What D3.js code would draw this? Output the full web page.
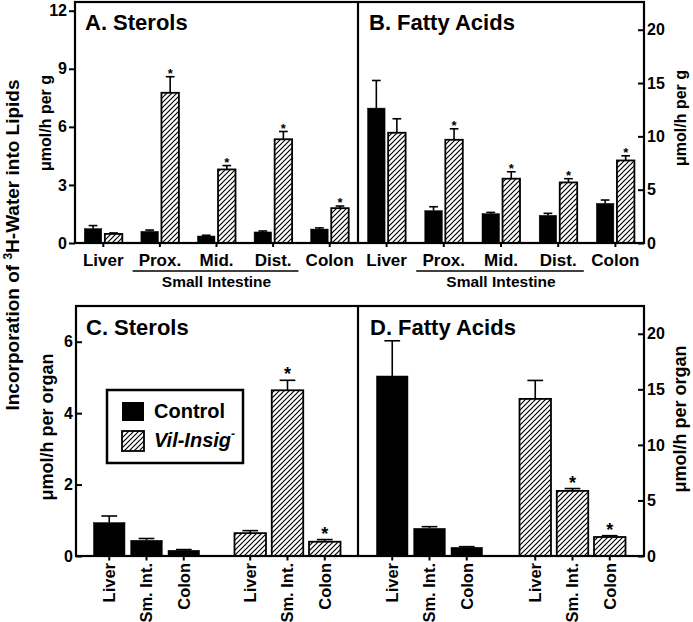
<!DOCTYPE html>
<html><head><meta charset="utf-8">
<script src="https://cdn.jsdelivr.net/npm/d3@7"></script>
<style>
html,body{margin:0;padding:0;background:#fff;}
svg{display:block;}
text{font-family:"Liberation Sans",Arial,Helvetica,sans-serif;font-weight:bold;fill:#000;}
</style></head><body>
<svg id="chart" width="693" height="622"></svg>
<script>
// ---------- data ----------
const catsPerGram = ["Liver","Prox.","Mid.","Dist.","Colon"];
const siLabel = "Small Intestine";
const groups = ["Control","Vil-Insig"];
const catsPerOrgan = ["Liver","Sm. Int.","Colon"];

// A. Sterols, umol/h per g
const sterolGramControl    = [0.74, 0.60, 0.36, 0.57, 0.72];
const sterolGramControlSem = [0.16, 0.07, 0.04, 0.05, 0.06];
const sterolGramVil        = [0.47, 7.76, 3.80, 5.36, 1.80];
const sterolGramVilSem     = [0.05, 0.83, 0.20, 0.40, 0.11];
const sterolGramSig        = [false, true, true, true, true];

// B. Fatty acids, umol/h per g
const faGramControl    = [12.65, 3.03, 2.75, 2.59, 3.71];
const faGramControlSem = [2.59, 0.37, 0.12, 0.19, 0.32];
const faGramVil        = [10.34, 9.68, 6.03, 5.68, 7.74];
const faGramVilSem     = [1.31, 1.03, 0.65, 0.35, 0.44];
const faGramSig        = [false, true, true, true, true];

// C. Sterols, umol/h per organ
const sterolOrganControl    = [0.935, 0.44, 0.16];
const sterolOrganControlSem = [0.185, 0.05, 0.02];
const sterolOrganVil        = [0.64, 4.64, 0.40];
const sterolOrganVilSem     = [0.07, 0.28, 0.06];
const sterolOrganSig        = [false, true, true];

// D. Fatty acids, umol/h per organ
const faOrganControl    = [16.2, 2.49, 0.78];
const faOrganControlSem = [3.17, 0.15, 0.06];
const faOrganVil        = [14.14, 5.86, 1.71];
const faOrganVilSem     = [1.66, 0.21, 0.12];
const faOrganSig        = [false, true, true];

const ticksA = [0,3,6,9,12];
const ticksB = [0,5,10,15,20];
const ticksC = [0,2,4,6];
const ticksD = [0,5,10,15,20];

// ---------- drawing ----------
const W = 693, H = 622;
const svg = d3.select("#chart");
svg.append("rect").attr("width", W).attr("height", H).attr("fill", "#fff");

const defs = svg.append("defs");
const pat = defs.append("pattern").attr("id","hatch")
  .attr("patternUnits","userSpaceOnUse").attr("width",5).attr("height",5);
pat.append("rect").attr("width",5).attr("height",5).attr("fill","#fff");
pat.append("path").attr("d","M-1,1 L1,-1 M0,5 L5,0 M4,6 L6,4")
  .attr("stroke","#000").attr("stroke-width",1.2);

const LW = 2.2;
const xL = 75, xM = 358, xR = 644;
const topBase = 243, topTop = 2, botBase = 556, botTop = 306;
const fmt = d3.format("d");

const yA = d3.scaleLinear().domain([0,12.45]).range([topBase, topTop]);
const yB = d3.scaleLinear().domain([0,22.6]).range([topBase, topTop]);
const yC = d3.scaleLinear().domain([0,7]).range([botBase, botTop]);
const yD = d3.scaleLinear().domain([0,22.5]).range([botBase, botTop]);

function styleAxis(g, fs) {
  g.attr("font-size", fs).attr("font-family", null);
  g.select(".domain").remove();
  g.selectAll(".tick line").attr("stroke","#000").attr("stroke-width",2);
}

function drawBars(g, data, y, starSize, starOff) {
  data.forEach(d => {
    const top = y(d.v), base = y(0);
    g.append("rect").attr("x", d.x).attr("y", top).attr("width", d.w).attr("height", base - top)
      .attr("fill", d.grp === "Control" ? "#000" : "url(#hatch)")
      .attr("stroke", "#000").attr("stroke-width", d.grp === "Control" ? 0.5 : 1.8);
    const cx = d.x + d.w/2, et = y(d.v + d.e);
    g.append("line").attr("x1",cx).attr("x2",cx).attr("y1",top).attr("y2",et)
      .attr("stroke","#000").attr("stroke-width",1.6);
    g.append("line").attr("x1",cx - d.w/4).attr("x2",cx + d.w/4).attr("y1",et).attr("y2",et)
      .attr("stroke","#000").attr("stroke-width",1.6);
    if (d.sig) {
      g.append("text").attr("x",cx).attr("y",et + starOff).attr("text-anchor","middle")
        .attr("font-size",starSize).text("*");
    }
  });
}

function topPanel(range, y, ctrl, ctrlSem, vil, vilSem, sig) {
  const g = svg.append("g");
  const xo = d3.scaleBand().domain(catsPerGram).range(range).padding(0);
  const xi = d3.scaleBand().domain(groups).range([-19,19]).paddingInner(0.15);
  const data = [];
  catsPerGram.forEach((c,i) => {
    const c0 = xo(c) + xo.bandwidth()/2;
    data.push({grp:"Control", x:c0 + xi("Control"), w:xi.bandwidth(), v:ctrl[i], e:ctrlSem[i], sig:false});
    data.push({grp:"Vil-Insig", x:c0 + xi("Vil-Insig"), w:xi.bandwidth(), v:vil[i], e:vilSem[i], sig:sig[i]});
  });
  drawBars(g, data, y, 13, 1);
  g.append("g").attr("transform",`translate(0,${topBase})`)
    .call(d3.axisBottom(xo).tickSize(4).tickPadding(7).tickSizeOuter(0))
    .call(a => styleAxis(a, 17));
  const x1 = xo("Prox.") + 1, x2 = xo("Dist.") + xo.bandwidth() - 3;
  g.append("line").attr("x1",x1).attr("x2",x2).attr("y1",271).attr("y2",271)
    .attr("stroke","#000").attr("stroke-width",1.5);
  g.append("text").attr("x", xo("Mid.") + xo.bandwidth()/2).attr("y",287)
    .attr("text-anchor","middle").attr("font-size",15.5).text(siLabel);
}

function bottomPanel(range, y, ctrl, ctrlSem, vil, vilSem, sig) {
  const g = svg.append("g");
  const xo = d3.scaleBand().domain(groups).range(range).padding(0);
  const xi = d3.scaleBand().domain(catsPerOrgan).range([-53,53]).paddingInner(0.155);
  const data = [];
  groups.forEach(gr => {
    const c0 = xo(gr) + xo.bandwidth()/2;
    const vals = gr === "Control" ? ctrl : vil, sems = gr === "Control" ? ctrlSem : vilSem;
    catsPerOrgan.forEach((c,i) => {
      data.push({grp:gr, cat:c, x:c0 + xi(c), w:xi.bandwidth(), v:vals[i], e:sems[i],
                 sig: gr === "Control" ? false : sig[i]});
    });
  });
  drawBars(g, data, y, 18, 0);
  data.forEach(d => {
    const cx = d.x + d.w/2;
    g.append("line").attr("x1",cx).attr("x2",cx).attr("y1",botBase).attr("y2",botBase+4.5)
      .attr("stroke","#000").attr("stroke-width",2);
    g.append("text").attr("transform",`translate(${cx},${botBase+7}) rotate(-90)`)
      .attr("text-anchor","end").attr("dy","0.35em").attr("font-size",16.5).text(d.cat);
  });
}

topPanel([xL, xM], yA, sterolGramControl, sterolGramControlSem, sterolGramVil, sterolGramVilSem, sterolGramSig);
topPanel([xM, xR], yB, faGramControl, faGramControlSem, faGramVil, faGramVilSem, faGramSig);
bottomPanel([xL+1, xM], yC, sterolOrganControl, sterolOrganControlSem, sterolOrganVil, sterolOrganVilSem, sterolOrganSig);
bottomPanel([xM, xR], yD, faOrganControl, faOrganControlSem, faOrganVil, faOrganVilSem, faOrganSig);

// frames
[[topTop, topBase, xL],[botTop, botBase, xL+1]].forEach(([t,b,l]) => {
  svg.append("rect").attr("x",l).attr("y",t).attr("width",xR-l).attr("height",b-t)
    .attr("fill","none").attr("stroke","#000").attr("stroke-width",LW);
  svg.append("line").attr("x1",xM).attr("x2",xM).attr("y1",t).attr("y2",b)
    .attr("stroke","#000").attr("stroke-width",LW);
});

// y axes
svg.append("g").attr("transform",`translate(${xL},0)`)
  .call(d3.axisLeft(yA).tickValues(ticksA).tickFormat(fmt).tickSize(6).tickPadding(2))
  .call(a => styleAxis(a, 16));
svg.append("g").attr("transform",`translate(${xR},0)`)
  .call(d3.axisRight(yB).tickValues(ticksB).tickFormat(fmt).tickSize(-6).tickPadding(3))
  .call(a => styleAxis(a, 16));
svg.append("g").attr("transform",`translate(${xL+1},0)`)
  .call(d3.axisLeft(yC).tickValues(ticksC).tickFormat(fmt).tickSize(-6).tickPadding(3))
  .call(a => styleAxis(a, 16));
svg.append("g").attr("transform",`translate(${xR},0)`)
  .call(d3.axisRight(yD).tickValues(ticksD).tickFormat(fmt).tickSize(-6).tickPadding(3))
  .call(a => styleAxis(a, 16));

// panel titles
const titles = [["A. Sterols",85,30],["B. Fatty Acids",369,30],["C. Sterols",86,335],["D. Fatty Acids",370,335]];
titles.forEach(([t,x,y]) => svg.append("text").attr("x",x).attr("y",y).attr("font-size",22).text(t));

// axis titles
const yTitles = [["μmol/h per g",51,123,16],["μmol/h per g",686,118,16],
                 ["μmol/h per organ",53,427,18],["μmol/h per organ",686,419,18]];
yTitles.forEach(([t,x,y,fs]) => svg.append("text")
  .attr("transform",`translate(${x},${y}) rotate(-90)`).attr("text-anchor","middle")
  .attr("font-size",fs).text(t));

const big = svg.append("text").attr("transform","translate(19,245) rotate(-90)")
  .attr("text-anchor","middle").attr("font-size",19);
big.append("tspan").text("Incorporation of ");
big.append("tspan").attr("font-size",12).attr("dy",-7).text("3");
big.append("tspan").attr("dy",7).text("H-Water into Lipids");

// legend
const lg = svg.append("g");
lg.append("rect").attr("x",107).attr("y",390).attr("width",136).attr("height",73)
  .attr("fill","#fff").attr("stroke","#000").attr("stroke-width",2.5);
lg.append("rect").attr("x",122).attr("y",402).attr("width",22).attr("height",19).attr("fill","#000");
lg.append("rect").attr("x",122).attr("y",431).attr("width",22).attr("height",20)
  .attr("fill","url(#hatch)").attr("stroke","#000").attr("stroke-width",1.8);
lg.append("text").attr("x",154).attr("y",418).attr("font-size",20).text(groups[0]);
const lt = lg.append("text").attr("x",154).attr("y",447).attr("font-size",20).attr("font-style","italic");
lt.append("tspan").text(groups[1]);
lt.append("tspan").attr("font-size",12).attr("dy",-9).text("-");
</script>
</body></html>
